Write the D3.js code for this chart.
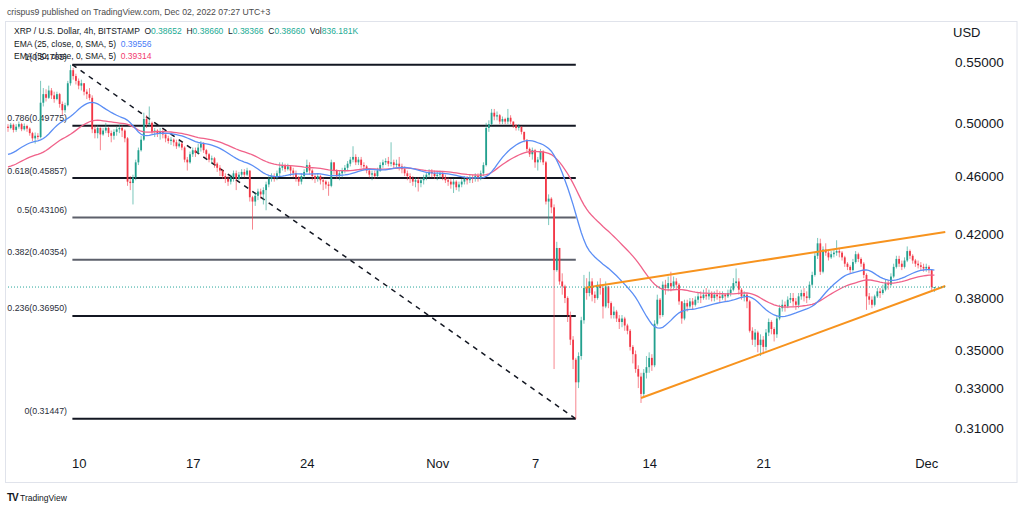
<!DOCTYPE html>
<html><head><meta charset="utf-8">
<script src="https://cdn.jsdelivr.net/npm/d3@7"></script>
<style>
html,body{margin:0;padding:0;background:#fff;}
svg{display:block;}
text{white-space:pre;}
</style></head><body>
<svg id="c" width="1024" height="511"></svg>
<script>
// ---- data (XRP/USD 4h candles) ----
const firstOpen = 0.4970;
const closes = [
0.4960,0.4985,0.4945,0.4970,0.4990,0.4950,0.4975,0.4955,0.4920,0.4880,
0.4900,0.4890,0.5160,0.5230,0.5200,0.5260,0.5220,0.5190,0.5230,0.5150,
0.5100,0.5140,0.5320,0.5430,0.5380,0.5340,0.5300,0.5320,0.5250,0.5230,
0.5200,0.4950,0.4920,0.4960,0.4910,0.4940,0.4960,0.4920,0.4900,0.4930,
0.4950,0.4960,0.4940,0.4880,0.4560,0.4550,0.4590,0.4700,0.4790,0.4870,
0.5030,0.4990,0.5000,0.4930,0.4940,0.4920,0.4930,0.4910,0.4880,0.4860,
0.4870,0.4850,0.4820,0.4840,0.4810,0.4720,0.4700,0.4760,0.4790,0.4770,
0.4810,0.4840,0.4790,0.4760,0.4720,0.4730,0.4690,0.4660,0.4640,0.4600,
0.4580,0.4560,0.4590,0.4620,0.4580,0.4610,0.4630,0.4610,0.4640,0.4450,
0.4420,0.4460,0.4490,0.4470,0.4500,0.4540,0.4580,0.4600,0.4590,0.4620,
0.4660,0.4680,0.4650,0.4670,0.4640,0.4620,0.4590,0.4560,0.4600,0.4630,
0.4680,0.4640,0.4600,0.4580,0.4600,0.4570,0.4560,0.4540,0.4530,0.4700,
0.4640,0.4600,0.4620,0.4640,0.4660,0.4690,0.4720,0.4740,0.4700,0.4720,
0.4680,0.4670,0.4640,0.4610,0.4620,0.4600,0.4640,0.4680,0.4700,0.4710,
0.4690,0.4700,0.4680,0.4690,0.4670,0.4650,0.4620,0.4600,0.4580,0.4560,
0.4570,0.4550,0.4570,0.4590,0.4610,0.4630,0.4620,0.4600,0.4610,0.4620,
0.4590,0.4570,0.4560,0.4540,0.4560,0.4520,0.4540,0.4560,0.4580,0.4570,
0.4590,0.4580,0.4600,0.4590,0.4620,0.4680,0.4960,0.4990,0.5080,0.5050,
0.5060,0.5010,0.5030,0.5010,0.5040,0.5010,0.4980,0.4960,0.4970,0.4930,
0.4870,0.4800,0.4760,0.4790,0.4700,0.4720,0.4780,0.4700,0.4420,0.4440,
0.4380,0.3970,0.4110,0.3900,0.3870,0.3800,0.3700,0.3560,0.3450,0.3330,
0.3470,0.3670,0.3860,0.3830,0.3900,0.3820,0.3800,0.3880,0.3860,0.3750,
0.3870,0.3770,0.3700,0.3720,0.3680,0.3660,0.3680,0.3640,0.3610,0.3520,
0.3480,0.3400,0.3360,0.3270,0.3380,0.3410,0.3460,0.3420,0.3650,0.3790,
0.3700,0.3880,0.3860,0.3890,0.3870,0.3900,0.3880,0.3780,0.3680,0.3770,
0.3750,0.3780,0.3760,0.3790,0.3810,0.3800,0.3820,0.3810,0.3830,0.3800,
0.3820,0.3810,0.3800,0.3820,0.3810,0.3830,0.3850,0.3890,0.3900,0.3850,
0.3810,0.3820,0.3780,0.3610,0.3560,0.3600,0.3530,0.3560,0.3520,0.3600,
0.3660,0.3620,0.3590,0.3680,0.3740,0.3760,0.3750,0.3790,0.3800,0.3780,
0.3760,0.3810,0.3830,0.3810,0.3800,0.3880,0.3940,0.4060,0.4140,0.3960,
0.4100,0.4080,0.4050,0.4070,0.4080,0.4090,0.4080,0.4050,0.4010,0.3990,
0.3970,0.4020,0.4070,0.4040,0.4010,0.3940,0.3810,0.3790,0.3760,0.3810,
0.3840,0.3830,0.3850,0.3890,0.3880,0.3930,0.3990,0.4040,0.4010,0.3990,
0.4030,0.4090,0.4060,0.4030,0.4010,0.4000,0.3990,0.3980,0.3990,0.3970,
0.38652,0.38660];
const highs = [
0.4990,0.5000,0.4995,0.4990,0.5010,0.5000,0.4995,0.4985,0.4965,0.4930,
0.4925,0.4920,0.5340,0.5280,0.5270,0.5300,0.5280,0.5250,0.5250,0.5240,
0.5170,0.5160,0.5340,0.5476,0.5450,0.5400,0.5360,0.5350,0.5320,0.5270,
0.5280,0.5220,0.4980,0.4980,0.4965,0.4960,0.5000,0.4970,0.4940,0.4950,
0.4970,0.4985,0.4980,0.4950,0.4890,0.4600,0.4610,0.4720,0.4810,0.4900,
0.5080,0.5060,0.5130,0.5010,0.4960,0.4950,0.4960,0.4950,0.4910,0.4900,
0.4890,0.4880,0.4870,0.4860,0.4850,0.4820,0.4740,0.4780,0.4810,0.4810,
0.4840,0.4860,0.4850,0.4800,0.4770,0.4750,0.4740,0.4700,0.4680,0.4650,
0.4620,0.4600,0.4610,0.4640,0.4640,0.4630,0.4650,0.4650,0.4660,0.4640,
0.4460,0.4480,0.4510,0.4510,0.4520,0.4560,0.4600,0.4620,0.4620,0.4640,
0.4700,0.4700,0.4690,0.4690,0.4680,0.4660,0.4640,0.4600,0.4620,0.4650,
0.4720,0.4700,0.4650,0.4620,0.4620,0.4610,0.4590,0.4570,0.4560,0.4720,
0.4700,0.4650,0.4640,0.4660,0.4680,0.4710,0.4740,0.4820,0.4760,0.4740,
0.4740,0.4700,0.4680,0.4650,0.4640,0.4640,0.4660,0.4700,0.4720,0.4730,
0.4740,0.4850,0.4720,0.4720,0.4740,0.4690,0.4670,0.4640,0.4620,0.4600,
0.4590,0.4590,0.4590,0.4610,0.4630,0.4650,0.4650,0.4640,0.4630,0.4640,
0.4630,0.4610,0.4590,0.4580,0.4580,0.4570,0.4560,0.4580,0.4600,0.4600,
0.4610,0.4610,0.4620,0.4620,0.4640,0.4700,0.5000,0.5020,0.5110,0.5110,
0.5090,0.5070,0.5050,0.5040,0.5110,0.5060,0.5010,0.4990,0.4990,0.4970,
0.4930,0.4870,0.4810,0.4810,0.4800,0.4740,0.4800,0.4790,0.4710,0.4470,
0.4450,0.4400,0.4150,0.4110,0.3950,0.3880,0.3810,0.3720,0.3580,0.3460,
0.3490,0.3690,0.3940,0.3920,0.3960,0.3920,0.3840,0.3900,0.3920,0.3880,
0.3900,0.3870,0.3780,0.3750,0.3730,0.3700,0.3700,0.3690,0.3650,0.3620,
0.3530,0.3500,0.3420,0.3380,0.3400,0.3470,0.3490,0.3480,0.3670,0.3820,
0.3800,0.3900,0.3910,0.3930,0.3960,0.3930,0.3920,0.3890,0.3780,0.3790,
0.3790,0.3800,0.3800,0.3810,0.3830,0.3840,0.3850,0.3860,0.3850,0.3840,
0.3840,0.3850,0.3840,0.3840,0.3830,0.3850,0.3870,0.3920,0.3980,0.3920,
0.3860,0.3840,0.3830,0.3790,0.3630,0.3620,0.3610,0.3590,0.3580,0.3620,
0.3680,0.3670,0.3630,0.3700,0.3760,0.3790,0.3780,0.3810,0.3830,0.3830,
0.3800,0.3830,0.3850,0.3860,0.3840,0.3900,0.3960,0.4080,0.4175,0.4170,
0.4120,0.4140,0.4100,0.4090,0.4100,0.4160,0.4110,0.4090,0.4060,0.4020,
0.4000,0.4040,0.4090,0.4080,0.4050,0.4020,0.3950,0.3830,0.3810,0.3820,
0.3860,0.3860,0.3880,0.3910,0.3910,0.3950,0.4010,0.4060,0.4060,0.4030,
0.4050,0.4120,0.4100,0.4070,0.4040,0.4030,0.4020,0.4010,0.4010,0.4000,
0.3975,0.38660];
const lows = [
0.4930,0.4950,0.4925,0.4930,0.4955,0.4935,0.4940,0.4930,0.4900,0.4860,
0.4840,0.4870,0.4880,0.5130,0.5170,0.5190,0.5190,0.5160,0.5180,0.5120,
0.5060,0.5080,0.5130,0.5300,0.5350,0.5310,0.5270,0.5260,0.5220,0.5190,
0.5180,0.4920,0.4880,0.4880,0.4790,0.4900,0.4920,0.4890,0.4850,0.4870,
0.4900,0.4920,0.4890,0.4850,0.4530,0.4500,0.4400,0.4570,0.4680,0.4780,
0.4860,0.4960,0.4970,0.4910,0.4890,0.4890,0.4870,0.4880,0.4850,0.4840,
0.4830,0.4820,0.4800,0.4810,0.4790,0.4700,0.4640,0.4690,0.4740,0.4740,
0.4760,0.4780,0.4770,0.4730,0.4700,0.4690,0.4660,0.4630,0.4600,0.4580,
0.4550,0.4530,0.4540,0.4560,0.4500,0.4570,0.4590,0.4590,0.4600,0.4420,
0.4230,0.4390,0.4430,0.4440,0.4400,0.4360,0.4520,0.4560,0.4560,0.4570,
0.4600,0.4640,0.4630,0.4640,0.4600,0.4590,0.4560,0.4530,0.4540,0.4580,
0.4620,0.4610,0.4570,0.4550,0.4560,0.4540,0.4500,0.4510,0.4460,0.4520,
0.4610,0.4580,0.4570,0.4590,0.4620,0.4640,0.4670,0.4700,0.4680,0.4680,
0.4660,0.4640,0.4620,0.4590,0.4570,0.4580,0.4590,0.4630,0.4660,0.4680,
0.4670,0.4670,0.4650,0.4660,0.4640,0.4620,0.4600,0.4570,0.4550,0.4530,
0.4520,0.4490,0.4520,0.4540,0.4570,0.4590,0.4590,0.4580,0.4570,0.4580,
0.4570,0.4550,0.4530,0.4510,0.4480,0.4500,0.4490,0.4520,0.4540,0.4540,
0.4550,0.4550,0.4560,0.4560,0.4570,0.4600,0.4670,0.4930,0.4980,0.5020,
0.5020,0.4990,0.4990,0.4990,0.4990,0.4990,0.4960,0.4940,0.4940,0.4910,
0.4850,0.4780,0.4740,0.4720,0.4660,0.4640,0.4700,0.4680,0.4400,0.4260,
0.4340,0.3400,0.3960,0.3880,0.3820,0.3770,0.3660,0.3530,0.3400,0.31447,
0.3300,0.3450,0.3650,0.3790,0.3810,0.3780,0.3770,0.3790,0.3820,0.3680,
0.3740,0.3740,0.3680,0.3680,0.3660,0.3620,0.3630,0.3610,0.3590,0.3500,
0.3430,0.3380,0.3300,0.3224,0.3250,0.3350,0.3380,0.3390,0.3410,0.3640,
0.3680,0.3690,0.3820,0.3840,0.3840,0.3850,0.3850,0.3760,0.3650,0.3670,
0.3720,0.3740,0.3730,0.3750,0.3770,0.3770,0.3790,0.3790,0.3790,0.3780,
0.3780,0.3790,0.3770,0.3790,0.3780,0.3800,0.3810,0.3840,0.3870,0.3820,
0.3790,0.3780,0.3740,0.3600,0.3530,0.3520,0.3490,0.3470,0.3480,0.3500,
0.3580,0.3590,0.3550,0.3570,0.3670,0.3720,0.3720,0.3740,0.3770,0.3750,
0.3730,0.3740,0.3790,0.3780,0.3770,0.3790,0.3870,0.3930,0.4040,0.3940,
0.3950,0.4060,0.4030,0.4040,0.4050,0.4060,0.4050,0.4030,0.3990,0.3970,
0.3950,0.3960,0.4010,0.4020,0.3990,0.3920,0.3730,0.3760,0.3740,0.3750,
0.3800,0.3800,0.3820,0.3840,0.3850,0.3870,0.3920,0.3980,0.3990,0.3970,
0.3980,0.4020,0.4040,0.4010,0.3990,0.3980,0.3970,0.3960,0.3960,0.3950,
0.3845,0.38366];

const yTicks = [0.55, 0.50, 0.46, 0.42, 0.38, 0.35, 0.33, 0.31];
const xTickIdx = [26, 68, 110, 158, 194, 236, 278, 338];
const xTickLabels = ["10", "17", "24", "Nov", "7", "14", "21", "Dec"];
const fibRatios = ["1", "0.786", "0.618", "0.5", "0.382", "0.236", "0"];
const fibPrices = [0.54765, 0.49775, 0.45857, 0.43106, 0.40354, 0.36950, 0.31447];
const fibSpan = [23.7, 209];
const trendUpper = [[212.5, 0.3862], [345, 0.4214]];
const trendLower = [[233, 0.3249], [345, 0.3872]];
const lastPrice = 0.38660;
const emaFastLen = 25, emaSlowLen = 50;
const emaFastSeed = 0.4755, emaSlowSeed = 0.4665;

// ---- layout ----
const svg = d3.select('#c');
const x = d3.scaleLinear().domain([0, 340]).range([8, 931.7]);
const y = d3.scaleLog().domain([0.31, 0.55]).range([428, 62]);
const UP = '#22a08e', DOWN = '#f23645';
const SMALL = '"Liberation Sans",Arial,sans-serif';
const AX = '"Liberation Sans",Arial,sans-serif';

svg.append('rect').attr('width', 1024).attr('height', 511).attr('fill', '#fff');
svg.append('rect').attr('x', 5.5).attr('y', 21.5).attr('width', 1011.5).attr('height', 461)
  .attr('fill', 'none').attr('stroke', '#e0e3eb');

// header
svg.append('text').attr('x', 7).attr('y', 15).attr('font-family', SMALL).attr('font-size', 8.7)
  .attr('fill', '#4a4a4a').text('crispus9 published on TradingView.com, Dec 02, 2022 07:27 UTC+3');

// fib levels
const fibG = svg.append('g');
fibPrices.forEach((p, k) => {
  const gray = (fibRatios[k] === '0.5' || fibRatios[k] === '0.382');
  fibG.append('line').attr('x1', x(fibSpan[0])).attr('x2', x(fibSpan[1]))
    .attr('y1', y(p)).attr('y2', y(p))
    .attr('stroke', gray ? '#5d606b' : '#131722').attr('stroke-width', 2);
  fibG.append('text').attr('x', 67).attr('y', y(p) - 4.5).attr('text-anchor', 'end')
    .attr('font-family', SMALL).attr('font-size', 8.8).attr('fill', '#2a2e39')
    .text(fibRatios[k] + '(' + d3.format('.5f')(p) + ')');
});
svg.append('line').attr('x1', x(fibSpan[0])).attr('y1', y(fibPrices[0]))
  .attr('x2', x(fibSpan[1])).attr('y2', y(fibPrices[fibPrices.length - 1]))
  .attr('stroke', '#131722').attr('stroke-width', 1.5).attr('stroke-dasharray', '5,5');

// candles
const candles = closes.map((c, i) => ({
  i, o: i ? closes[i - 1] : firstOpen, c,
  h: Math.max(highs[i], c, i ? closes[i - 1] : firstOpen),
  l: Math.min(lows[i], c, i ? closes[i - 1] : firstOpen)
}));
const cg = svg.append('g');
cg.selectAll('line.w').data(candles).join('line')
  .attr('x1', d => x(d.i)).attr('x2', d => x(d.i))
  .attr('y1', d => y(d.h)).attr('y2', d => y(d.l))
  .attr('stroke', d => d.c >= d.o ? UP : DOWN).attr('stroke-width', 1).attr('stroke-opacity', 0.6);
cg.selectAll('rect').data(candles).join('rect')
  .attr('x', d => x(d.i) - 0.9).attr('width', 1.8)
  .attr('y', d => y(Math.max(d.o, d.c)))
  .attr('height', d => Math.max(1, y(Math.min(d.o, d.c)) - y(Math.max(d.o, d.c))))
  .attr('fill', d => d.c >= d.o ? UP : DOWN);

// EMA (close) smoothed with SMA 5
function emaSma(len, seed) {
  const k = 2 / (len + 1); let e = seed; const ema = [];
  closes.forEach(c => { e = e + k * (c - e); ema.push(e); });
  return ema.map((v, i) => {
    let s = 0; for (let j = i - 4; j <= i; j++) s += (j >= 0 ? ema[j] : seed);
    return s / 5;
  });
}
const line = d3.line().x((d, i) => x(i)).y(d => y(d));
svg.append('path').attr('d', line(emaSma(emaSlowLen, emaSlowSeed))).attr('fill', 'none')
  .attr('stroke', '#f0628a').attr('stroke-width', 1.3);
svg.append('path').attr('d', line(emaSma(emaFastLen, emaFastSeed))).attr('fill', 'none')
  .attr('stroke', '#5b8ef5').attr('stroke-width', 1.3);

// trend lines
const tl = d3.line().x(d => x(d[0])).y(d => y(d[1]));
[trendUpper, trendLower].forEach(t => svg.append('path').attr('d', tl(t))
  .attr('fill', 'none').attr('stroke', '#f7931e').attr('stroke-width', 2));

// last price dotted line
svg.append('line').attr('x1', 8).attr('x2', 946).attr('y1', y(lastPrice)).attr('y2', y(lastPrice))
  .attr('stroke', '#26a69a').attr('stroke-width', 1).attr('stroke-dasharray', '1,2');

// legend
function legend(yb, parts) {
  const t = svg.append('text').attr('x', 14).attr('y', yb).attr('font-family', SMALL)
    .attr('font-size', 8.5).attr('fill', '#131722');
  parts.forEach(([s, col]) => t.append('tspan').attr('fill', col).text(s));
}
const TEAL = '#22ab94';
legend(34, [['XRP / U.S. Dollar, 4h, BITSTAMP  O', '#131722'], ['0.38652', TEAL], ['  H', '#131722'], ['0.38660', TEAL],
  ['  L', '#131722'], ['0.38366', TEAL], ['  C', '#131722'], ['0.38660', TEAL], ['  Vol', '#131722'], ['836.181K', TEAL]]);
legend(47, [['EMA (25, close, 0, SMA, 5)  ', '#131722'], ['0.39556', '#4a7bf7']]);
legend(59, [['EMA (50, close, 0, SMA, 5)  ', '#131722'], ['0.39314', '#f23a6e']]);

// y axis
const ya = svg.append('g').attr('transform', 'translate(951,0)')
  .call(d3.axisRight(y).tickValues(yTicks).tickSize(0).tickPadding(4).tickFormat(d3.format('.5f')));
ya.select('.domain').remove();
ya.selectAll('text').attr('font-family', AX).attr('font-size', 13.5).attr('fill', '#131722');
svg.append('text').attr('x', 953).attr('y', 37).attr('font-family', AX).attr('font-size', 13)
  .attr('fill', '#131722').text('USD');

// x axis
const xa = svg.append('g').attr('transform', 'translate(0,456)')
  .call(d3.axisBottom(x).tickValues(xTickIdx).tickSize(0).tickPadding(3).tickFormat((d, i) => xTickLabels[i]));
xa.select('.domain').remove();
xa.selectAll('text').attr('font-family', AX).attr('font-size', 13).attr('fill', '#131722');

// footer logo
svg.append('text').attr('x', 7).attr('y', 501).attr('font-family', AX).attr('font-size', 10)
  .attr('font-weight', 900).attr('letter-spacing', -1).attr('fill', '#131722').text('TV');
svg.append('text').attr('x', 20).attr('y', 500.5).attr('font-family', SMALL).attr('font-size', 8.5)
  .attr('fill', '#131722').text('TradingView');
</script></body></html>
